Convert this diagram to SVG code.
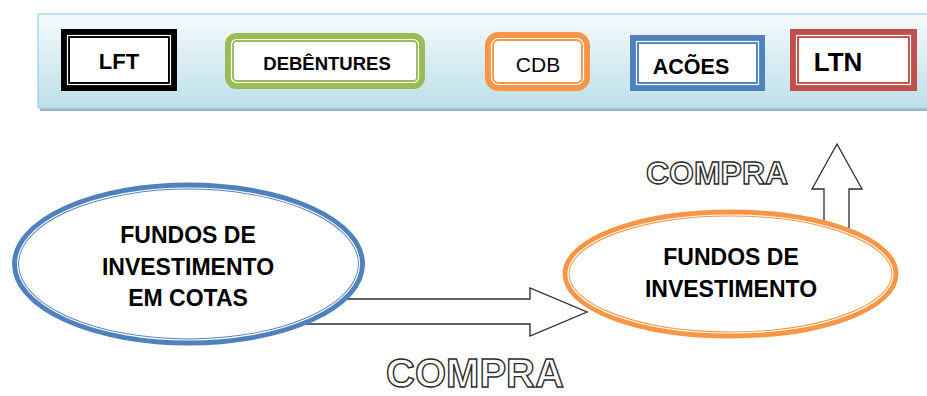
<svg xmlns="http://www.w3.org/2000/svg" width="927" height="396" viewBox="0 0 927 396">
  <defs>
    <linearGradient id="bannerGrad" x1="0" y1="0" x2="0" y2="1">
      <stop offset="0" stop-color="#f6fbfc"/>
      <stop offset="1" stop-color="#bcdfe9"/>
    </linearGradient>
    <style>
      .lbl { font-family: "Liberation Sans", Arial, sans-serif; font-weight: bold; fill: #000; text-anchor: middle; }
      .reg { font-family: "Liberation Sans", Arial, sans-serif; font-weight: normal; fill: #000; text-anchor: middle; }
      .gap { fill: none; stroke: #fff; stroke-width: 1.2; }
      .arrow { fill: #fff; stroke: #2b2b2b; stroke-width: 1.3; stroke-linejoin: miter; }
      .outline { font-family: "Liberation Sans", Arial, sans-serif; font-weight: bold; fill: #fff; stroke: #2b2b2b; stroke-width: 1.4; text-anchor: middle; }
    </style>
  </defs>

  <rect width="927" height="396" fill="#fff"/>

  <!-- banner -->
  <g id="banner">
    <rect x="40" y="17" width="900" height="94" fill="#9db6bd"/>
    <rect x="38" y="14" width="900" height="94" fill="url(#bannerGrad)" stroke="#a4d9e6" stroke-width="1.5"/>
  </g>

  <g id="lft">
    <rect x="65.5" y="33.5" width="107" height="53" fill="#fff" stroke="#000" stroke-width="9"/>
    <rect x="67.5" y="35.5" width="103" height="49" class="gap"/>
    <text x="119" y="69" class="lbl" font-size="22">LFT</text>
  </g>

  <g id="debentures">
    <rect x="229.5" y="37.5" width="191" height="47" rx="7" fill="#fff" stroke="#9bbb59" stroke-width="9"/>
    <rect x="231.5" y="39.5" width="187" height="43" rx="5" class="gap"/>
    <text x="327" y="70" class="lbl" font-size="18.5">DEBÊNTURES</text>
  </g>

  <g id="cdb">
    <rect x="489.5" y="36.5" width="96" height="50" rx="9" fill="#fff" stroke="#f79646" stroke-width="9"/>
    <rect x="491.5" y="38.5" width="92" height="46" rx="7" class="gap"/>
    <text x="538" y="72" class="reg" font-size="21">CDB</text>
  </g>

  <g id="acoes">
    <rect x="634.5" y="39.5" width="126" height="47" fill="#fff" stroke="#4f81bd" stroke-width="9"/>
    <rect x="636.5" y="41.5" width="122" height="43" class="gap"/>
    <text x="691" y="74" class="lbl" font-size="21.5">ACÕES</text>
  </g>

  <g id="ltn">
    <rect x="794.5" y="33.5" width="118" height="53" fill="#fff" stroke="#c0504d" stroke-width="9"/>
    <rect x="796.5" y="35.5" width="114" height="49" class="gap"/>
    <text x="838" y="71" class="lbl" font-size="26">LTN</text>
  </g>

  <!-- connectors -->
  <g id="connectors">
    <path class="arrow" d="M300,299 L530,299 L530,288 L587,312 L530,336 L530,324 L300,324 Z"/>
    <path class="arrow" d="M824,262 L824,189 L812,189 L837,144 L862,189 L849,189 L849,262 Z"/>
    <text x="717" y="184" class="outline" font-size="32">COMPRA</text>
    <text x="475" y="387" class="outline" font-size="40">COMPRA</text>
  </g>

  <g id="fundos-cotas">
    <ellipse cx="188.5" cy="264" rx="173" ry="78" fill="#fff" stroke="#4f81bd" stroke-width="7"/>
    <ellipse cx="188.5" cy="264" rx="171" ry="76" class="gap"/>
    <text x="188" y="243" class="lbl" font-size="23">FUNDOS DE</text>
    <text x="188" y="275" class="lbl" font-size="23">INVESTIMENTO</text>
    <text x="188" y="306" class="lbl" font-size="23">EM COTAS</text>
  </g>

  <g id="fundos-investimento">
    <ellipse cx="730.5" cy="274" rx="164.5" ry="61" fill="#fff" stroke="#f79646" stroke-width="7"/>
    <ellipse cx="730.5" cy="274" rx="162.5" ry="59" class="gap"/>
    <text x="731" y="265" class="lbl" font-size="23">FUNDOS DE</text>
    <text x="731" y="297" class="lbl" font-size="23">INVESTIMENTO</text>
  </g>
</svg>
